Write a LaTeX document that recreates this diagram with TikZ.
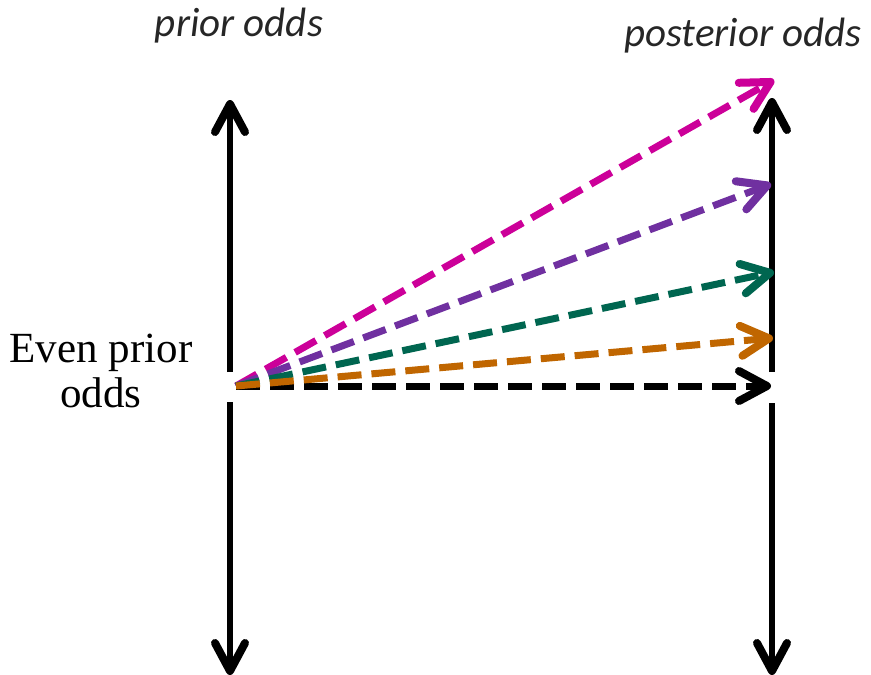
\documentclass[tikz,border=0pt]{standalone}
\usepackage{fontspec}
\setmainfont{Liberation Serif}
\newfontfamily\calibri{Carlito}
\usepackage{tikz}
\usetikzlibrary{arrows.meta,positioning}

\definecolor{oddsmagenta}{HTML}{CC0099}
\definecolor{oddspurple}{HTML}{7030A0}
\definecolor{oddsgreen}{HTML}{006650}
\definecolor{oddsorange}{HTML}{C06600}
\definecolor{labelgray}{HTML}{262626}

\begin{document}
\begin{tikzpicture}[
  x=1pt, y=-1pt,
  axis/.style={line width=6pt, -{Straight Barb[length=28pt, width=30pt, line width=8pt, round]}},
  odds/.style={line width=7pt, dash pattern=on 24pt off 10pt, -{Straight Barb[length=28pt, width=30pt, line width=8pt, round]}},
  head/.style={font=\calibri\itshape\fontsize{41}{48}\selectfont, text=labelgray},
]
\useasboundingbox (0,0) rectangle (871,675);

% Prior axis
\coordinate (ptop) at (230,100);
\coordinate (pup)  at (230,372);
\coordinate (plow) at (230,402);
\coordinate (pbot) at (230,675);
\draw[axis] (pup) -- (ptop);
\draw[axis] (plow) -- (pbot);

% Posterior axis
\coordinate (qtop) at (772,98);
\coordinate (qup)  at (772,372);
\coordinate (qlow) at (772,403);
\coordinate (qbot) at (772,675);
\draw[axis] (qup) -- (qtop);
\draw[axis] (qlow) -- (qbot);

% Labels
\node[head, anchor=base] (prior) at (239,36) {prior odds};
\node[head, anchor=base] (post) at (743,46) {posterior odds};
\node[align=center, font=\fontsize{43}{45}\selectfont, anchor=base] (even) at (101,407) {Even prior\\odds};

% Updated odds
\coordinate (start) at (236,386);
\coordinate (mag)   at (774,80);
\coordinate (pur)   at (771,184);
\coordinate (grn)   at (774,272);
\coordinate (org)   at (773,338);
\coordinate (blk)   at (771,386);

\draw[odds, oddsmagenta] (start) -- (mag);
\draw[odds, oddspurple]  (start) -- (pur);
\draw[odds, oddsgreen]   (start) -- (grn);
\draw[odds, black]       (start) -- (blk);
\draw[odds, oddsorange]  (start) -- (org);

\end{tikzpicture}
\end{document}
